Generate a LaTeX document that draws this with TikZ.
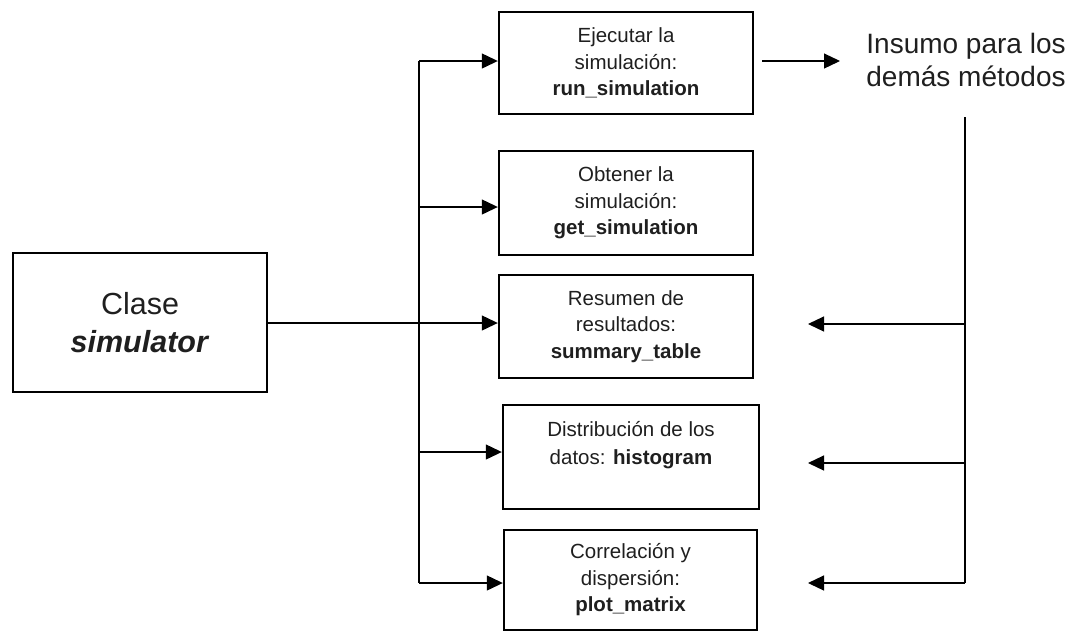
\documentclass[tikz,border=0pt]{standalone}
\usepackage{fontspec}
\setmainfont{Liberation Sans}
\usetikzlibrary{arrows.meta}
\begin{document}
\begin{tikzpicture}[x=1pt,y=-1pt,
  box/.style={draw, line width=2.4pt, rectangle, inner sep=0pt, align=center,
    font=\fontsize{20.5}{26.5}\selectfont, text=black!88},
  conn/.style={line width=1.2pt},
  arr/.style={conn, -{Triangle[length=16pt,width=15pt]}},
  label/.style={align=center, inner sep=0pt, text=black!88}]
\useasboundingbox (0,0) rectangle (1076,633);
% main class
\node[box, minimum width=254pt, minimum height=139pt, font=\fontsize{30.5}{38}\selectfont] (c) at (140,322.5) {Clase\\\textbf{\textit{simulator}}};
% method boxes
\node[box, minimum width=254pt, minimum height=102pt] (b1) at (626,63) {Ejecutar la\\simulación:\\\textbf{run\_simulation}};
\node[box, minimum width=254pt, minimum height=104pt] (b2) at (626,203) {Obtener la\\simulación:\\\textbf{get\_simulation}};
\node[box, minimum width=254pt, minimum height=103pt] (b3) at (626,326.5) {Resumen de\\resultados:\\\textbf{summary\_table}};
\node[box, minimum width=256pt, minimum height=104pt] (b4) at (631,457) {};
\node[label, font=\fontsize{20.5}{28}\selectfont] (t4) at (631,445) {Distribución de los\\datos: \textbf{histogram}};
\node[box, minimum width=253pt, minimum height=100pt] (b5) at (630.5,580) {Correlación y\\dispersión:\\\textbf{plot\_matrix}};
% output text
\node[label, font=\fontsize{28}{33}\selectfont] (ins) at (966,60) {Insumo para los\\demás métodos};
% left trunk
\coordinate (j1) at (419,61);
\coordinate (j2) at (419,207);
\coordinate (j3) at (419,323);
\coordinate (j4) at (419,452);
\coordinate (j5) at (419,583);
\draw[conn] (j1) -- (j5);
\draw[arr] (j1) -- (j1 -| b1.west);
\draw[arr] (j2) -- (j2 -| b2.west);
\draw[arr] (c.east |- j3) -- (j3 -| b3.west);
\draw[arr] (j4) -- (j4 -| b4.west);
\draw[arr] (j5) -- (j5 -| b5.west);
% output arrow
\coordinate (o1) at (762,61);
\coordinate (o2) at (840,61);
\draw[arr] (o1) -- (o2);
% right trunk
\coordinate (r0) at (965,117);
\coordinate (r3) at (965,324);
\coordinate (r4) at (965,463);
\coordinate (r5) at (965,583);
\coordinate (a3) at (808,324);
\coordinate (a4) at (808,463);
\coordinate (a5) at (808,583);
\draw[conn] (r0) -- (r5);
\draw[arr] (r3) -- (a3);
\draw[arr] (r4) -- (a4);
\draw[arr] (r5) -- (a5);
\end{tikzpicture}
\end{document}
